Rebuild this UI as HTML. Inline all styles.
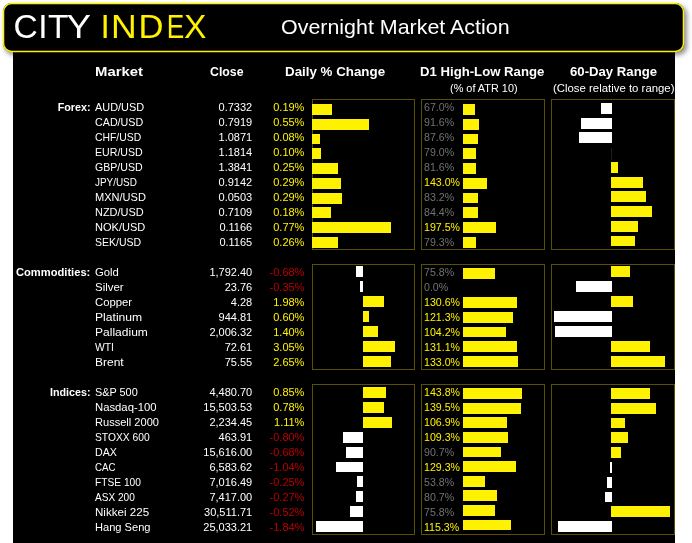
<!DOCTYPE html>
<html lang="en"><head><meta charset="utf-8"><title>Overnight Market Action</title>
<style>
html,body{margin:0;padding:0;background:#fff}
body{width:692px;height:543px;position:relative;overflow:hidden;font-family:"Liberation Sans",Arial,sans-serif}
#main{position:absolute;left:13.3px;top:45px;width:661.7px;height:498px;background:#000}
#hdr{position:absolute;left:3px;top:3px;width:681px;height:49px;background:#000;border-radius:8.5px;box-shadow:2.5px 3px 5px rgba(0,0,0,.45)}
#hdrb{position:absolute;left:0;top:0}
.t{position:absolute;white-space:nowrap;line-height:0;height:0;color:#fff;font-size:11px}
.lb{font-weight:bold}
.hd{font-weight:bold;font-size:13.5px}
.sh{font-size:11.5px}
.d1{transform:scaleX(.965);transform-origin:0 50%}
.b{position:absolute;display:block}
.bx{position:absolute;box-sizing:border-box;border:1px solid #5a5100}
#logo{position:absolute;left:13.4px;top:27.3px;line-height:0;height:0;white-space:nowrap;font-size:33.6px;color:#fff;letter-spacing:.5px}
#logo span{display:inline-block}
#logo b{font-weight:normal;color:#fff200;letter-spacing:.8px;position:absolute;left:87.2px;top:0}
#title{position:absolute;left:280.6px;top:27.1px;line-height:0;height:0;white-space:nowrap;font-size:19.8px;color:#fff;transform:scaleX(1.083);transform-origin:0 50%}
</style></head><body>
<div id="main"></div>
<div id="hdr"></div>
<svg id="hdrb" width="692" height="60" viewBox="0 0 692 60"><rect x="3.55" y="3.55" width="679.9" height="47.9" rx="8" ry="8" fill="#000" stroke="#fff200" stroke-width="1.45"/></svg>
<div id="logo">CIT<span style="transform:translateX(-.5px) scaleX(1.09);transform-origin:100% 50%">Y</span> <b>I<span style="transform:scaleX(1.06);transform-origin:0 50%">N</span><span style="transform:translateX(2.6px) scaleX(1.03);transform-origin:0 50%">D</span><span style="transform:translateX(.6px) scaleX(.78);transform-origin:100% 50%">E</span>X</b></div>
<div id="title">Overnight Market Action</div>
<div class="t hd" style="left:94.60px;top:71.82px;transform:scaleX(1.102);transform-origin:0 50%">Market</div>
<div class="t hd" style="left:209.80px;top:71.82px;transform:scaleX(0.911);transform-origin:0 50%">Close</div>
<div class="t hd" style="left:284.60px;top:71.82px;transform:scaleX(0.988);transform-origin:0 50%">Daily % Change</div>
<div class="t hd" style="left:420.30px;top:71.82px;transform:scaleX(0.975);transform-origin:0 50%">D1 High-Low Range</div>
<div class="t hd" style="left:569.60px;top:71.82px;transform:scaleX(0.975);transform-origin:0 50%">60-Day Range</div>
<div class="t sh" style="left:450.00px;top:88.02px;transform:scaleX(0.947);transform-origin:0 50%">(% of ATR 10)</div>
<div class="t sh" style="left:553.10px;top:88.02px;transform:scaleX(0.990);transform-origin:0 50%">(Close relative to range)</div>
<div class="bx" style="left:312px;top:99px;width:103px;height:151px"></div>
<div class="bx" style="left:421px;top:99px;width:124px;height:151px"></div>
<div class="bx" style="left:551px;top:99px;width:124px;height:151px"></div>
<div class="t lb" style="right:601.40px;top:106.99px;transform:scaleX(0.979);transform-origin:100% 50%">Forex:</div>
<div class="t nm" style="left:95.00px;top:106.99px;transform:scaleX(0.992);transform-origin:0 50%">AUD/USD</div>
<div class="t cl" style="right:439.80px;top:106.99px">0.7332</div>
<div class="t pc" style="right:387.60px;top:106.99px;color:#fff200">0.19%</div>
<div class="t d1" style="left:424.10px;top:106.99px;color:#727272">67.0%</div>
<i class="b" style="left:312.00px;top:104.00px;width:19.60px;height:10.90px;background:#fff200"></i>
<i class="b" style="left:463.00px;top:104.00px;width:11.50px;height:10.90px;background:#fff200"></i>
<i class="b" style="left:601.00px;top:103.00px;width:11.00px;height:10.90px;background:#fff"></i>
<div class="t nm" style="left:95.00px;top:121.99px;transform:scaleX(0.974);transform-origin:0 50%">CAD/USD</div>
<div class="t cl" style="right:439.80px;top:121.99px">0.7919</div>
<div class="t pc" style="right:387.60px;top:121.99px;color:#fff200">0.55%</div>
<div class="t d1" style="left:424.10px;top:121.99px;color:#727272">91.6%</div>
<i class="b" style="left:312.00px;top:118.78px;width:56.80px;height:10.90px;background:#fff200"></i>
<i class="b" style="left:463.00px;top:118.75px;width:15.60px;height:10.90px;background:#fff200"></i>
<i class="b" style="left:581.00px;top:117.73px;width:31.00px;height:10.90px;background:#fff"></i>
<div class="t nm" style="left:95.00px;top:136.99px;transform:scaleX(0.945);transform-origin:0 50%">CHF/USD</div>
<div class="t cl" style="right:439.80px;top:136.99px">1.0871</div>
<div class="t pc" style="right:387.60px;top:136.99px;color:#fff200">0.08%</div>
<div class="t d1" style="left:424.10px;top:136.99px;color:#727272">87.6%</div>
<i class="b" style="left:312.00px;top:133.56px;width:7.90px;height:10.90px;background:#fff200"></i>
<i class="b" style="left:463.00px;top:133.50px;width:14.60px;height:10.90px;background:#fff200"></i>
<i class="b" style="left:579.00px;top:132.46px;width:33.00px;height:10.90px;background:#fff"></i>
<div class="t nm" style="left:95.00px;top:151.99px;transform:scaleX(0.965);transform-origin:0 50%">EUR/USD</div>
<div class="t cl" style="right:439.80px;top:151.99px">1.1814</div>
<div class="t pc" style="right:387.60px;top:151.99px;color:#fff200">0.10%</div>
<div class="t d1" style="left:424.10px;top:151.99px;color:#727272">79.0%</div>
<i class="b" style="left:312.00px;top:148.34px;width:9.10px;height:10.90px;background:#fff200"></i>
<i class="b" style="left:463.00px;top:148.25px;width:13.40px;height:10.90px;background:#fff200"></i>
<div class="t nm" style="left:95.00px;top:166.99px;transform:scaleX(0.963);transform-origin:0 50%">GBP/USD</div>
<div class="t cl" style="right:439.80px;top:166.99px">1.3841</div>
<div class="t pc" style="right:387.60px;top:166.99px;color:#fff200">0.25%</div>
<div class="t d1" style="left:424.10px;top:166.99px;color:#727272">81.6%</div>
<i class="b" style="left:312.00px;top:163.12px;width:25.70px;height:10.90px;background:#fff200"></i>
<i class="b" style="left:463.00px;top:163.00px;width:13.30px;height:10.90px;background:#fff200"></i>
<i class="b" style="left:611.00px;top:161.92px;width:6.80px;height:10.90px;background:#fff200"></i>
<div class="t nm" style="left:95.00px;top:181.99px;transform:scaleX(0.902);transform-origin:0 50%">JPY/USD</div>
<div class="t cl" style="right:439.80px;top:181.99px">0.9142</div>
<div class="t pc" style="right:387.60px;top:181.99px;color:#fff200">0.29%</div>
<div class="t d1" style="left:424.10px;top:181.99px;color:#fff200">143.0%</div>
<i class="b" style="left:312.00px;top:177.90px;width:28.90px;height:10.90px;background:#fff200"></i>
<i class="b" style="left:463.00px;top:177.75px;width:23.80px;height:10.90px;background:#fff200"></i>
<i class="b" style="left:611.00px;top:176.65px;width:31.90px;height:10.90px;background:#fff200"></i>
<div class="t nm" style="left:95.00px;top:196.99px;transform:scaleX(1.004);transform-origin:0 50%">MXN/USD</div>
<div class="t cl" style="right:439.80px;top:196.99px">0.0503</div>
<div class="t pc" style="right:387.60px;top:196.99px;color:#fff200">0.29%</div>
<div class="t d1" style="left:424.10px;top:196.99px;color:#727272">83.2%</div>
<i class="b" style="left:312.00px;top:192.68px;width:29.80px;height:10.90px;background:#fff200"></i>
<i class="b" style="left:463.00px;top:192.50px;width:14.70px;height:10.90px;background:#fff200"></i>
<i class="b" style="left:611.00px;top:191.38px;width:34.70px;height:10.90px;background:#fff200"></i>
<div class="t nm" style="left:95.00px;top:211.99px;transform:scaleX(0.996);transform-origin:0 50%">NZD/USD</div>
<div class="t cl" style="right:439.80px;top:211.99px">0.7109</div>
<div class="t pc" style="right:387.60px;top:211.99px;color:#fff200">0.18%</div>
<div class="t d1" style="left:424.10px;top:211.99px;color:#727272">84.4%</div>
<i class="b" style="left:312.00px;top:207.46px;width:18.70px;height:10.90px;background:#fff200"></i>
<i class="b" style="left:463.00px;top:207.25px;width:14.70px;height:10.90px;background:#fff200"></i>
<i class="b" style="left:611.00px;top:206.11px;width:40.80px;height:10.90px;background:#fff200"></i>
<div class="t nm" style="left:95.00px;top:226.99px;transform:scaleX(1.004);transform-origin:0 50%">NOK/USD</div>
<div class="t cl" style="right:439.80px;top:226.99px">0.1166</div>
<div class="t pc" style="right:387.60px;top:226.99px;color:#fff200">0.77%</div>
<div class="t d1" style="left:424.10px;top:226.99px;color:#fff200">197.5%</div>
<i class="b" style="left:312.00px;top:222.24px;width:78.80px;height:10.90px;background:#fff200"></i>
<i class="b" style="left:463.00px;top:222.00px;width:32.90px;height:10.90px;background:#fff200"></i>
<i class="b" style="left:611.00px;top:220.84px;width:27.00px;height:10.90px;background:#fff200"></i>
<div class="t nm" style="left:95.00px;top:241.99px;transform:scaleX(0.955);transform-origin:0 50%">SEK/USD</div>
<div class="t cl" style="right:439.80px;top:241.99px">0.1165</div>
<div class="t pc" style="right:387.60px;top:241.99px;color:#fff200">0.26%</div>
<div class="t d1" style="left:424.10px;top:241.99px;color:#727272">79.3%</div>
<i class="b" style="left:312.00px;top:237.02px;width:25.70px;height:10.90px;background:#fff200"></i>
<i class="b" style="left:463.00px;top:236.75px;width:13.30px;height:10.90px;background:#fff200"></i>
<i class="b" style="left:611.00px;top:235.57px;width:24.40px;height:10.90px;background:#fff200"></i>
<div class="bx" style="left:312px;top:264px;width:103px;height:105.5px"></div>
<div class="bx" style="left:421px;top:264px;width:124px;height:105.5px"></div>
<div class="bx" style="left:551px;top:264px;width:124px;height:105.5px"></div>
<div class="t lb" style="right:601.40px;top:271.99px;transform:scaleX(1.014);transform-origin:100% 50%">Commodities:</div>
<div class="t nm" style="left:95.00px;top:271.99px;transform:scaleX(1.026);transform-origin:0 50%">Gold</div>
<div class="t cl" style="right:439.80px;top:271.99px">1,792.40</div>
<div class="t pc" style="right:387.60px;top:271.99px;color:#b80000">-0.68%</div>
<div class="t d1" style="left:424.10px;top:271.99px;color:#727272">75.8%</div>
<i class="b" style="left:356.00px;top:266.10px;width:7.00px;height:10.90px;background:#fff"></i>
<i class="b" style="left:463.00px;top:267.80px;width:32.00px;height:10.90px;background:#fff200"></i>
<i class="b" style="left:611.00px;top:266.00px;width:19.00px;height:10.90px;background:#fff200"></i>
<div class="t nm" style="left:95.00px;top:286.99px;transform:scaleX(1.042);transform-origin:0 50%">Silver</div>
<div class="t cl" style="right:439.80px;top:286.99px">23.76</div>
<div class="t pc" style="right:387.60px;top:286.99px;color:#b80000">-0.35%</div>
<div class="t d1" style="left:424.10px;top:286.99px;color:#727272">0.0%</div>
<i class="b" style="left:359.50px;top:281.05px;width:3.50px;height:10.90px;background:#fff"></i>
<i class="b" style="left:576.10px;top:280.97px;width:35.90px;height:10.90px;background:#fff"></i>
<div class="t nm" style="left:95.00px;top:301.99px;transform:scaleX(1.028);transform-origin:0 50%">Copper</div>
<div class="t cl" style="right:439.80px;top:301.99px">4.28</div>
<div class="t pc" style="right:387.60px;top:301.99px;color:#fff200">1.98%</div>
<div class="t d1" style="left:424.10px;top:301.99px;color:#fff200">130.6%</div>
<i class="b" style="left:363.00px;top:296.00px;width:20.90px;height:10.90px;background:#fff200"></i>
<i class="b" style="left:463.00px;top:297.20px;width:54.10px;height:10.90px;background:#fff200"></i>
<i class="b" style="left:611.00px;top:295.94px;width:22.00px;height:10.90px;background:#fff200"></i>
<div class="t nm" style="left:95.00px;top:316.99px;transform:scaleX(1.102);transform-origin:0 50%">Platinum</div>
<div class="t cl" style="right:439.80px;top:316.99px">944.81</div>
<div class="t pc" style="right:387.60px;top:316.99px;color:#fff200">0.60%</div>
<div class="t d1" style="left:424.10px;top:316.99px;color:#fff200">121.3%</div>
<i class="b" style="left:363.00px;top:310.95px;width:6.10px;height:10.90px;background:#fff200"></i>
<i class="b" style="left:463.00px;top:311.90px;width:50.10px;height:10.90px;background:#fff200"></i>
<i class="b" style="left:553.70px;top:310.91px;width:58.30px;height:10.90px;background:#fff"></i>
<div class="t nm" style="left:95.00px;top:331.99px;transform:scaleX(1.094);transform-origin:0 50%">Palladium</div>
<div class="t cl" style="right:439.80px;top:331.99px">2,006.32</div>
<div class="t pc" style="right:387.60px;top:331.99px;color:#fff200">1.40%</div>
<div class="t d1" style="left:424.10px;top:331.99px;color:#fff200">104.2%</div>
<i class="b" style="left:363.00px;top:325.90px;width:14.60px;height:10.90px;background:#fff200"></i>
<i class="b" style="left:463.00px;top:326.60px;width:43.00px;height:10.90px;background:#fff200"></i>
<i class="b" style="left:554.70px;top:325.88px;width:57.30px;height:10.90px;background:#fff"></i>
<div class="t nm" style="left:95.00px;top:346.99px;transform:scaleX(0.942);transform-origin:0 50%">WTI</div>
<div class="t cl" style="right:439.80px;top:346.99px">72.61</div>
<div class="t pc" style="right:387.60px;top:346.99px;color:#fff200">3.05%</div>
<div class="t d1" style="left:424.10px;top:346.99px;color:#fff200">131.1%</div>
<i class="b" style="left:363.00px;top:340.85px;width:31.90px;height:10.90px;background:#fff200"></i>
<i class="b" style="left:463.00px;top:341.30px;width:54.00px;height:10.90px;background:#fff200"></i>
<i class="b" style="left:611.00px;top:340.85px;width:38.80px;height:10.90px;background:#fff200"></i>
<div class="t nm" style="left:95.00px;top:361.99px;transform:scaleX(1.092);transform-origin:0 50%">Brent</div>
<div class="t cl" style="right:439.80px;top:361.99px">75.55</div>
<div class="t pc" style="right:387.60px;top:361.99px;color:#fff200">2.65%</div>
<div class="t d1" style="left:424.10px;top:361.99px;color:#fff200">133.0%</div>
<i class="b" style="left:363.00px;top:355.80px;width:28.10px;height:10.90px;background:#fff200"></i>
<i class="b" style="left:463.00px;top:356.00px;width:54.90px;height:10.90px;background:#fff200"></i>
<i class="b" style="left:611.00px;top:355.82px;width:54.00px;height:10.90px;background:#fff200"></i>
<div class="bx" style="left:312px;top:384px;width:103px;height:150.5px"></div>
<div class="bx" style="left:421px;top:384px;width:124px;height:150.5px"></div>
<div class="bx" style="left:551px;top:384px;width:124px;height:150.5px"></div>
<div class="t lb" style="right:601.40px;top:391.99px;transform:scaleX(0.976);transform-origin:100% 50%">Indices:</div>
<div class="t nm" style="left:95.00px;top:391.99px;transform:scaleX(0.988);transform-origin:0 50%">S&amp;P 500</div>
<div class="t cl" style="right:439.80px;top:391.99px">4,480.70</div>
<div class="t pc" style="right:387.60px;top:391.99px;color:#fff200">0.85%</div>
<div class="t d1" style="left:424.10px;top:391.99px;color:#fff200">143.8%</div>
<i class="b" style="left:363.10px;top:387.00px;width:22.90px;height:10.90px;background:#fff200"></i>
<i class="b" style="left:463.00px;top:388.10px;width:58.80px;height:10.90px;background:#fff200"></i>
<i class="b" style="left:611.00px;top:388.00px;width:38.60px;height:10.90px;background:#fff200"></i>
<div class="t nm" style="left:95.00px;top:406.99px;transform:scaleX(1.027);transform-origin:0 50%">Nasdaq-100</div>
<div class="t cl" style="right:439.80px;top:406.99px">15,503.53</div>
<div class="t pc" style="right:387.60px;top:406.99px;color:#fff200">0.78%</div>
<div class="t d1" style="left:424.10px;top:406.99px;color:#fff200">139.5%</div>
<i class="b" style="left:363.10px;top:401.91px;width:21.00px;height:10.90px;background:#fff200"></i>
<i class="b" style="left:463.00px;top:402.70px;width:58.00px;height:10.90px;background:#fff200"></i>
<i class="b" style="left:611.00px;top:402.80px;width:44.70px;height:10.90px;background:#fff200"></i>
<div class="t nm" style="left:95.00px;top:421.99px;transform:scaleX(1.006);transform-origin:0 50%">Russell 2000</div>
<div class="t cl" style="right:439.80px;top:421.99px">2,234.45</div>
<div class="t pc" style="right:387.60px;top:421.99px;color:#fff200">1.11%</div>
<div class="t d1" style="left:424.10px;top:421.99px;color:#fff200">106.9%</div>
<i class="b" style="left:363.10px;top:416.82px;width:28.90px;height:10.90px;background:#fff200"></i>
<i class="b" style="left:463.00px;top:417.30px;width:44.00px;height:10.90px;background:#fff200"></i>
<i class="b" style="left:611.00px;top:417.60px;width:13.50px;height:10.90px;background:#fff200"></i>
<div class="t nm" style="left:95.00px;top:436.99px;transform:scaleX(0.935);transform-origin:0 50%">STOXX 600</div>
<div class="t cl" style="right:439.80px;top:436.99px">463.91</div>
<div class="t pc" style="right:387.60px;top:436.99px;color:#b80000">-0.80%</div>
<div class="t d1" style="left:424.10px;top:436.99px;color:#fff200">109.3%</div>
<i class="b" style="left:342.80px;top:431.73px;width:20.30px;height:10.90px;background:#fff"></i>
<i class="b" style="left:463.00px;top:431.90px;width:45.00px;height:10.90px;background:#fff200"></i>
<i class="b" style="left:611.00px;top:432.40px;width:16.90px;height:10.90px;background:#fff200"></i>
<div class="t nm" style="left:95.00px;top:451.99px;transform:scaleX(0.967);transform-origin:0 50%">DAX</div>
<div class="t cl" style="right:439.80px;top:451.99px">15,616.00</div>
<div class="t pc" style="right:387.60px;top:451.99px;color:#b80000">-0.68%</div>
<div class="t d1" style="left:424.10px;top:451.99px;color:#727272">90.7%</div>
<i class="b" style="left:345.90px;top:446.64px;width:17.20px;height:10.90px;background:#fff"></i>
<i class="b" style="left:463.00px;top:446.50px;width:38.00px;height:10.90px;background:#fff200"></i>
<i class="b" style="left:611.00px;top:447.20px;width:9.50px;height:10.90px;background:#fff200"></i>
<div class="t nm" style="left:95.00px;top:466.99px;transform:scaleX(0.883);transform-origin:0 50%">CAC</div>
<div class="t cl" style="right:439.80px;top:466.99px">6,583.62</div>
<div class="t pc" style="right:387.60px;top:466.99px;color:#b80000">-1.04%</div>
<div class="t d1" style="left:424.10px;top:466.99px;color:#fff200">129.3%</div>
<i class="b" style="left:336.10px;top:461.55px;width:27.00px;height:10.90px;background:#fff"></i>
<i class="b" style="left:463.00px;top:461.10px;width:52.70px;height:10.90px;background:#fff200"></i>
<i class="b" style="left:609.70px;top:462.00px;width:2.50px;height:10.90px;background:#fff"></i>
<div class="t nm" style="left:95.00px;top:481.99px;transform:scaleX(0.927);transform-origin:0 50%">FTSE 100</div>
<div class="t cl" style="right:439.80px;top:481.99px">7,016.49</div>
<div class="t pc" style="right:387.60px;top:481.99px;color:#b80000">-0.25%</div>
<div class="t d1" style="left:424.10px;top:481.99px;color:#727272">53.8%</div>
<i class="b" style="left:357.00px;top:476.46px;width:6.10px;height:10.90px;background:#fff"></i>
<i class="b" style="left:463.00px;top:475.70px;width:22.40px;height:10.90px;background:#fff200"></i>
<i class="b" style="left:607.10px;top:476.80px;width:5.10px;height:10.90px;background:#fff"></i>
<div class="t nm" style="left:95.00px;top:496.99px;transform:scaleX(0.916);transform-origin:0 50%">ASX 200</div>
<div class="t cl" style="right:439.80px;top:496.99px">7,417.00</div>
<div class="t pc" style="right:387.60px;top:496.99px;color:#b80000">-0.27%</div>
<div class="t d1" style="left:424.10px;top:496.99px;color:#727272">80.7%</div>
<i class="b" style="left:356.20px;top:491.37px;width:6.90px;height:10.90px;background:#fff"></i>
<i class="b" style="left:463.00px;top:490.30px;width:33.50px;height:10.90px;background:#fff200"></i>
<i class="b" style="left:605.10px;top:491.60px;width:7.10px;height:10.90px;background:#fff"></i>
<div class="t nm" style="left:95.00px;top:511.99px;transform:scaleX(1.054);transform-origin:0 50%">Nikkei 225</div>
<div class="t cl" style="right:439.80px;top:511.99px">30,511.71</div>
<div class="t pc" style="right:387.60px;top:511.99px;color:#b80000">-0.52%</div>
<div class="t d1" style="left:424.10px;top:511.99px;color:#727272">75.8%</div>
<i class="b" style="left:349.90px;top:506.28px;width:13.20px;height:10.90px;background:#fff"></i>
<i class="b" style="left:463.00px;top:504.90px;width:31.70px;height:10.90px;background:#fff200"></i>
<i class="b" style="left:611.00px;top:506.40px;width:59.00px;height:10.90px;background:#fff200"></i>
<div class="t nm" style="left:95.00px;top:526.99px;transform:scaleX(1.009);transform-origin:0 50%">Hang Seng</div>
<div class="t cl" style="right:439.80px;top:526.99px">25,033.21</div>
<div class="t pc" style="right:387.60px;top:526.99px;color:#b80000">-1.84%</div>
<div class="t d1" style="left:424.10px;top:526.99px;color:#fff200">115.3%</div>
<i class="b" style="left:315.90px;top:521.19px;width:47.20px;height:10.90px;background:#fff"></i>
<i class="b" style="left:463.00px;top:519.50px;width:47.70px;height:10.90px;background:#fff200"></i>
<i class="b" style="left:557.70px;top:521.20px;width:54.50px;height:10.90px;background:#fff"></i>
<i class="b" style="left:611px;top:148px;width:1px;height:12px;background:#1c1c1c"></i>
</body></html>
